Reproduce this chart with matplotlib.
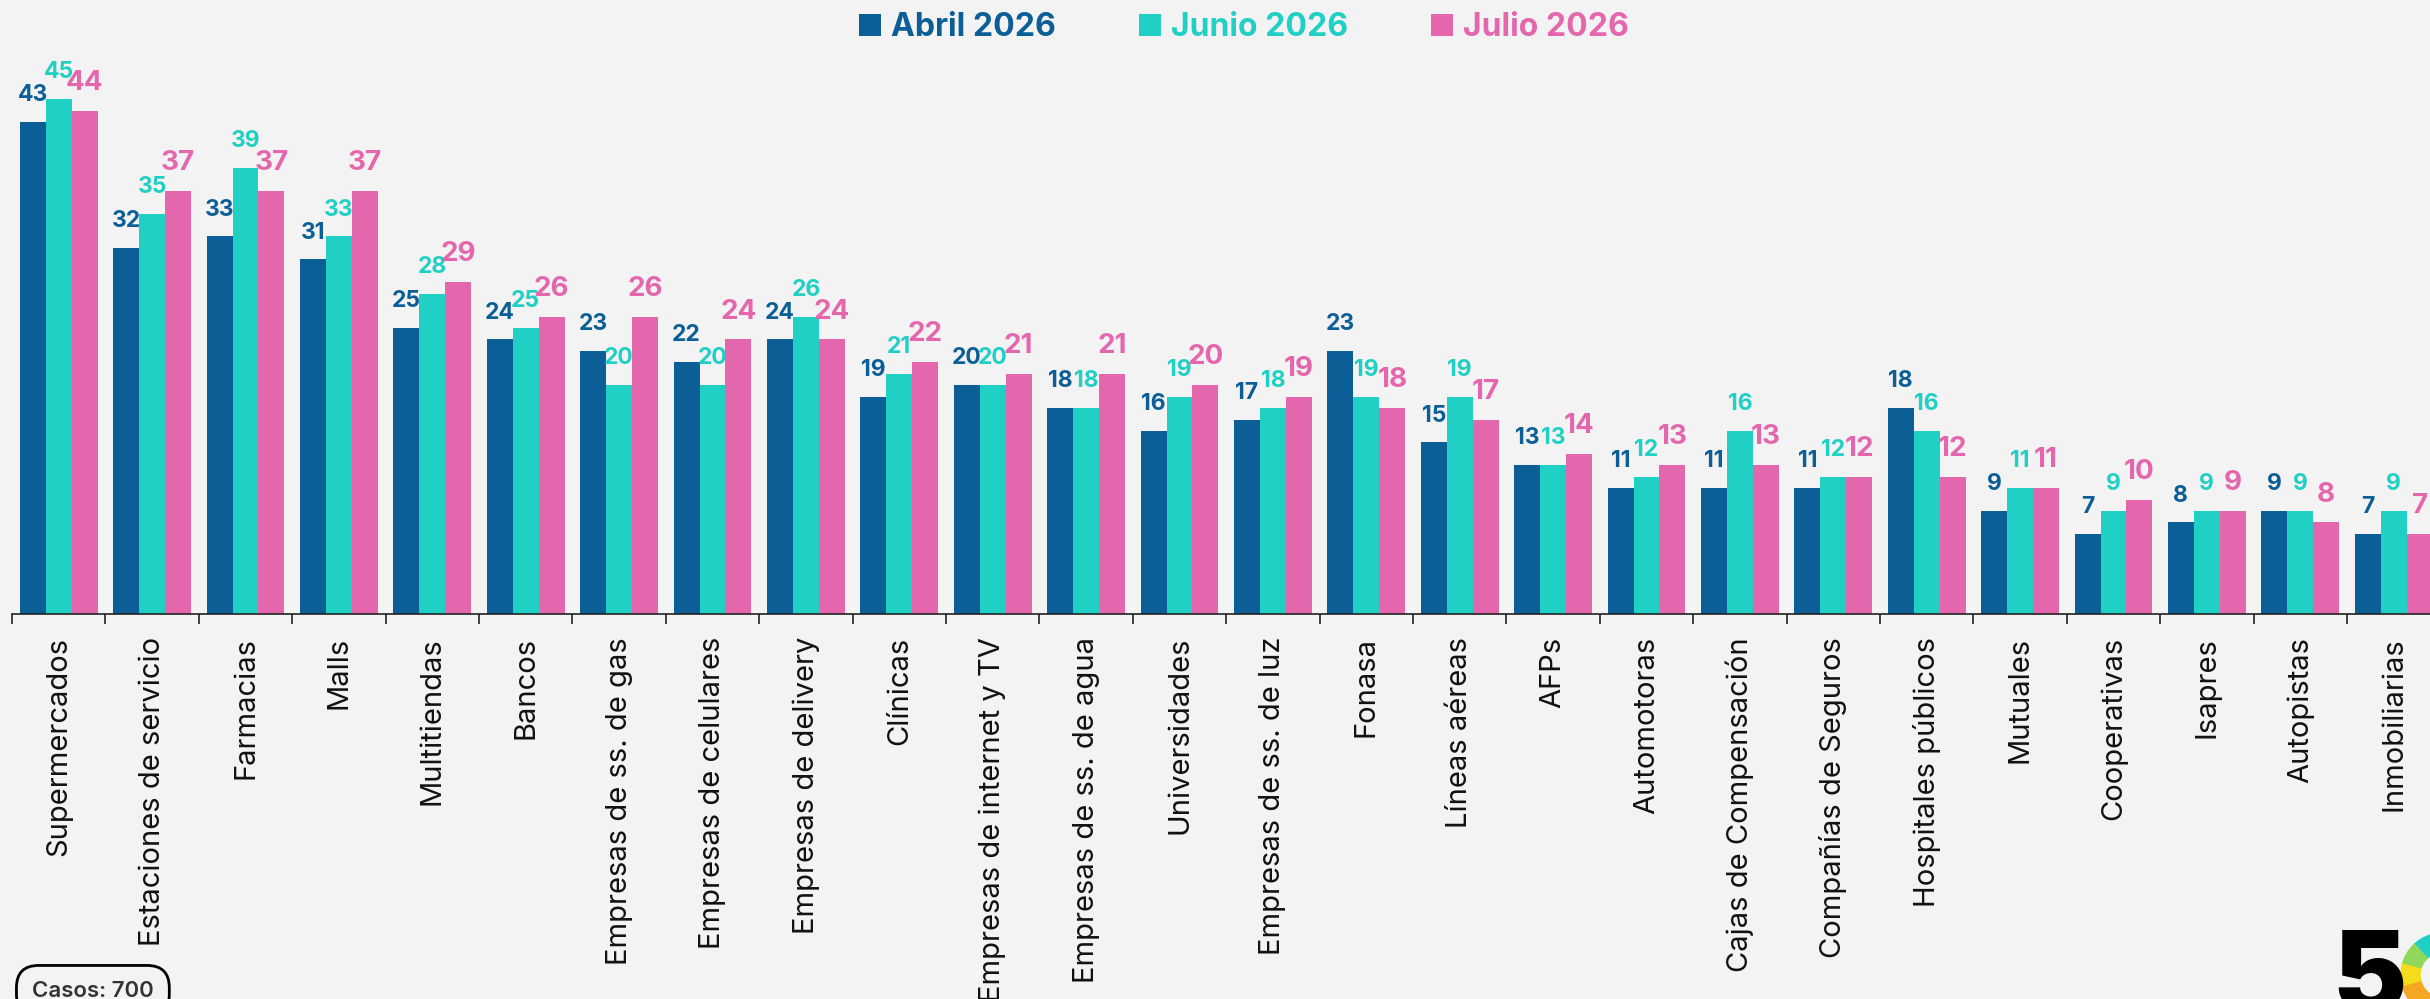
import numpy as np
import matplotlib
matplotlib.use('Agg')
import matplotlib.pyplot as plt
from matplotlib.patches import Wedge

# chart data
categories = ['Supermercados', 'Estaciones de servicio', 'Farmacias', 'Malls', 'Multitiendas', 'Bancos',
              'Empresas de ss. de gas', 'Empresas de celulares', 'Empresas de delivery', 'Clínicas',
              'Empresas de internet y TV', 'Empresas de ss. de agua', 'Universidades', 'Empresas de ss. de luz',
              'Fonasa', 'Líneas aéreas', 'AFPs', 'Automotoras', 'Cajas de Compensación', 'Compañías de Seguros',
              'Hospitales públicos', 'Mutuales', 'Cooperativas', 'Isapres', 'Autopistas', 'Inmobiliarias']
abril = [43, 32, 33, 31, 25, 24, 23, 22, 24, 19, 20, 18, 16, 17, 23, 15, 13, 11, 11, 11, 18, 9, 7, 8, 9, 7]
junio = [45, 35, 39, 33, 28, 25, 20, 20, 26, 21, 20, 18, 19, 18, 19, 19, 13, 12, 16, 12, 16, 11, 9, 9, 9, 9]
julio = [44, 37, 37, 37, 29, 26, 26, 24, 24, 22, 21, 21, 20, 19, 18, 17, 14, 13, 13, 12, 12, 11, 10, 9, 8, 7]
series_names = ['Abril 2026', 'Junio 2026', 'Julio 2026']
casos_text = 'Casos: 700'

colors = ['#0b5e96', '#21d0c4', '#e467ad']
label_sizes = [16.5, 16.5, 20]
bg = '#f4f3f3'
font = 'Inter'

W, H = 2430, 999
fig = plt.figure(figsize=(W / 100, H / 100), dpi=100, facecolor=bg)
ax = fig.add_axes([12 / W, 385 / H, (W - 12) / W, 572 / H])
ax.set_facecolor('none')

x = np.arange(len(categories))
bw = 0.278
bars = []
for k, vals in enumerate([abril, junio, julio]):
    b = ax.bar(x + (k - 1) * bw, vals, width=bw, color=colors[k], label=series_names[k])
    bars.append(b)
    for xi, v in zip(x + (k - 1) * bw, vals):
        ax.annotate(str(v), (xi, v), xytext=(0, 15), textcoords='offset points',
                    ha='center', va='baseline', color=colors[k], fontsize=label_sizes[k],
                    fontweight='bold', family=font)

ax.set_ylim(0, 50)
ax.set_xlim(-0.5, -0.5 + (W - 12) / 93.4)
for s in ['left', 'right', 'top']:
    ax.spines[s].set_visible(False)
ax.spines['bottom'].set_color('#222222')
ax.spines['bottom'].set_linewidth(1.2)
ax.set_yticks([])
ax.set_xticks(x)
ax.set_xticklabels(categories, rotation=90, fontsize=21, family=font, color='#111111')
ax.tick_params(axis='x', which='major', length=0, pad=16.5)
ax.set_xticks(x - 0.5, minor=True)
ax.tick_params(axis='x', which='minor', length=7, width=1.2, color='#222222')

leg = fig.legend(handles=bars, labels=series_names, loc='center', bbox_to_anchor=(0.512, 0.972),
                 ncol=3, frameon=False, prop={'family': font, 'weight': 'bold', 'size': 23},
                 handlelength=0.69, handleheight=0.69, handletextpad=0.31, columnspacing=2.6)
for t, c in zip(leg.get_texts(), colors):
    t.set_color(c)

fig.text(32 / W, 2 / H, casos_text, ha='left', va='baseline', fontsize=16, fontweight='semibold',
         family=font, color='#333333',
         bbox=dict(boxstyle='round,pad=0.7,rounding_size=1.0', fc='none', ec='black', lw=2))

# logo in the corner
fig.text(2332 / W, -13 / H, '5', ha='left', va='baseline', fontsize=80, fontweight='black',
         family=font, color='black')
ring = [('#21d0c4', 40, 133), ('#8fd85a', 133, 165), ('#f5dc1a', 165, 197), ('#f5a623', 197, 260)]
for c, a1, a2 in ring:
    fig.patches.append(Wedge((24.43, 0.24), 0.42, a1, a2, width=0.19, color=c,
                             transform=fig.dpi_scale_trans))

fig.savefig('out.png', dpi=100, facecolor=bg)
